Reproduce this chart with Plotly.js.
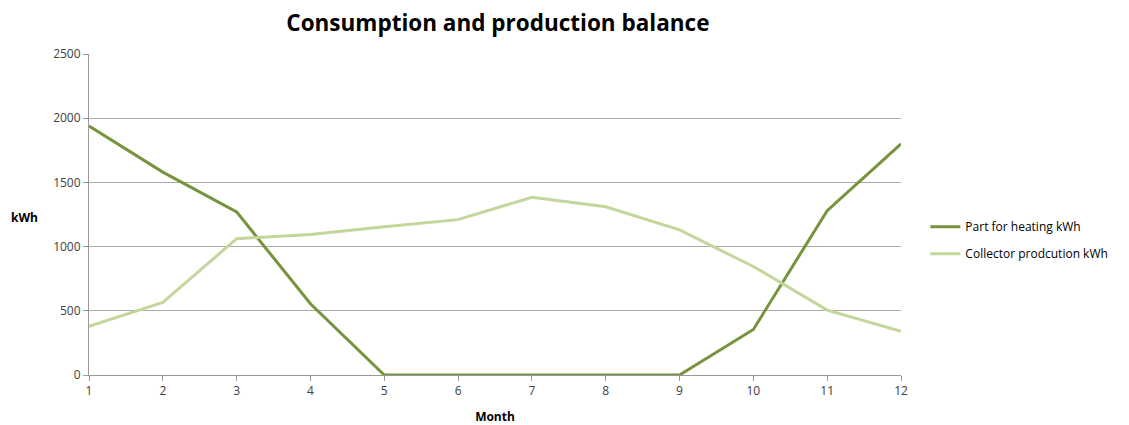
<!DOCTYPE html>
<html>
<head>
<meta charset="utf-8">
<script src="https://cdn.plot.ly/plotly-3.0.1.min.js"></script>
<style>html,body{margin:0;padding:0;background:#fff;}#chart{width:1129px;height:425px;}</style>
</head>
<body>
<div id="chart"></div>
<script>
const months = [1,2,3,4,5,6,7,8,9,10,11,12];
const heating = [1940,1580,1270,555,0,0,0,0,0,355,1280,1800];
const collector = [380,565,1062,1095,1155,1210,1384,1310,1130,845,505,340];
const seriesNames = ["Part for heating kWh","Collector prodcution kWh"];
const yTicks = [0,500,1000,1500,2000,2500];

const font = "Open Sans, Liberation Sans, sans-serif";
const data = [
  {x: months, y: heating, name: seriesNames[0], legendgroup: "a", type: "scatter", mode: "lines",
   line: {color: "#77933C", width: 3}},
  {x: months, y: collector, name: seriesNames[1], legendgroup: "b", type: "scatter", mode: "lines",
   line: {color: "#C3D69B", width: 3}}
];
const layout = {
  width: 1129, height: 425,
  margin: {l: 89, r: 228, t: 54, b: 50},
  paper_bgcolor: "#fff", plot_bgcolor: "#fff",
  title: {text: "<b>Consumption and production balance</b>", x: 0.441, xanchor: "center", y: 0.945, yanchor: "middle",
          font: {family: font, size: 22.5, color: "#000"}},
  font: {family: font, size: 12, color: "#404040"},
  xaxis: {range: [1, 12], tickvals: months, ticks: "outside", ticklen: 5, tickcolor: "#999",
          showline: true, linecolor: "#999", linewidth: 1, showgrid: false, zeroline: false,
          tickfont: {size: 12, color: "#404040"},
          title: {text: "<b>Month</b>", font: {size: 12, color: "#000"}, standoff: 14}},
  yaxis: {range: [0, 2500], tickvals: yTicks, ticks: "outside", ticklen: 5, tickcolor: "#999",
          showline: true, linecolor: "#999", linewidth: 1, showgrid: true, gridcolor: "#aaaaaa",
          gridwidth: 1, zeroline: false, tickfont: {size: 12, color: "#404040"}},
  showlegend: true,
  legend: {x: 1.03, y: 0.42, xanchor: "left", yanchor: "middle", font: {size: 12, color: "#000"},
           traceorder: "grouped", tracegroupgap: 8, itemwidth: 30},
  annotations: [{text: "<b>kWh</b>", xref: "paper", yref: "paper", x: -0.079, y: 0.49,
                 xanchor: "center", yanchor: "middle", showarrow: false, font: {size: 12, color: "#000"}}]
};
Plotly.newPlot("chart", data, layout, {displayModeBar: false, staticPlot: true});
</script>
</body>
</html>
